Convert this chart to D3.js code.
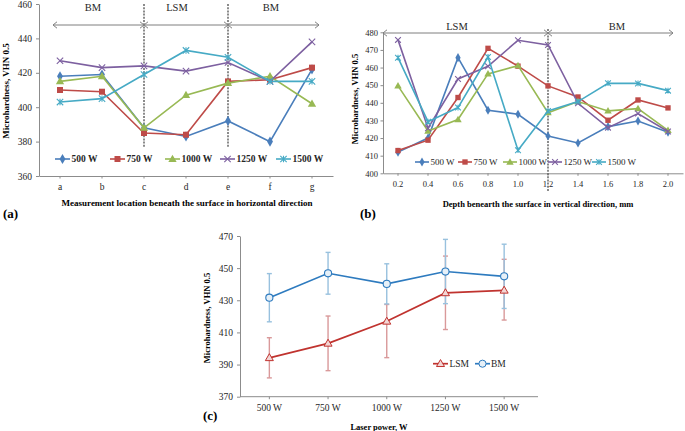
<!DOCTYPE html>
<html><head><meta charset="utf-8">
<script src="https://cdn.jsdelivr.net/npm/d3@7"></script>
<style>body{margin:0;background:#fff}svg{display:block}svg text{font-family:'Liberation Serif','Times New Roman',serif}</style>
</head><body>
<svg id="chart" width="685" height="431"></svg>
<script>
// ---------- data ----------
const seriesNames = ["500 W", "750 W", "1000 W", "1250 W", "1500 W"];
// panel (a)
const catsA = ["a", "b", "c", "d", "e", "f", "g"];
const a500  = [418, 419, 388, 383, 392, 380, 422];
const a750  = [410, 409, 385, 384, 415, 416, 423];
const a1000 = [415, 418, 388, 407, 414, 418, 402];
const a1250 = [427, 423, 424, 421, 426, 415, 438];
const a1500 = [403, 405, 419, 433, 429, 415, 415];
const ticksA = [360, 380, 400, 420, 440, 460];
// panel (b)
const catsB = ["0.2", "0.4", "0.6", "0.8", "1.0", "1.2", "1.4", "1.6", "1.8", "2.0"];
const b500  = [412, 420, 465.6, 435.8, 433.5, 421.2, 417.2, 426.5, 429.7, 423.3];
const b750  = [412.9, 418.8, 443, 470.9, 460.8, 449.6, 443.3, 430.1, 441.6, 437.1];
const b1000 = [449.6, 424, 430.5, 456.4, 461.1, 434.4, 440.7, 435.4, 436.7, 424.4];
const b1250 = [475.7, 425.6, 453.5, 460.7, 475.5, 472.8, 439.7, 425.9, 433.9, 423.7];
const b1500 = [465.6, 429.3, 437.3, 466, 413.1, 435.4, 440.7, 451.1, 451, 446.9];
const ticksB = [400, 410, 420, 430, 440, 450, 460, 470, 480];
// panel (c)
const catsC = ["500 W", "750 W", "1000 W", "1250 W", "1500 W"];
const lsmMean = [394.2, 403.2, 416.9, 434.6, 436.2];
const lsmErrPlus  = [12.5, 17, 10.5, 22.9, 19.3];
const lsmErrMinus = [12.5, 17, 22.6, 22.8, 18.5];
const bmMean = [431.6, 446.8, 440.2, 447.9, 444.9];
const bmErr  = [15, 13, 12.5, 20, 20];
const ticksC = [370, 390, 410, 430, 450, 470];

// ---------- style ----------
const colors = ["#4a7ebb", "#be4b48", "#98b954", "#7d60a0", "#46aac5"];
const markers = ["diamond", "square", "triangle", "cross", "star"];
const FONT = "'Liberation Serif','Times New Roman',serif";
const AXIS = "#8c8c8c";
const svg = d3.select("#chart").style("font-family", FONT);

function marker(g, type, x, y, color, s) {
  s = s || 1;
  if (type === "diamond") {
    g.append("path").attr("d", d3.symbol(d3.symbolDiamond, 30 * s)()).attr("transform", `translate(${x},${y})`).attr("fill", color);
  } else if (type === "square") {
    g.append("path").attr("d", d3.symbol(d3.symbolSquare, 36 * s)()).attr("transform", `translate(${x},${y})`).attr("fill", color);
  } else if (type === "triangle") {
    g.append("path").attr("d", d3.symbol(d3.symbolTriangle, 30 * s)()).attr("transform", `translate(${x},${y + 0.5})`).attr("fill", color);
  } else if (type === "cross" || type === "star") {
    const r = 3.2 * Math.sqrt(s);
    let d = `M${x - r},${y - r}L${x + r},${y + r}M${x - r},${y + r}L${x + r},${y - r}`;
    if (type === "star") d += `M${x},${y - r}L${x},${y + r}`;
    g.append("path").attr("d", d).attr("stroke", color).attr("stroke-width", 1.1).attr("fill", "none");
  }
}

function arrowSeg(g, x1, x2, y) {
  const h = 3.2, w = 4;
  g.append("line").attr("x1", x1).attr("x2", x2).attr("y1", y).attr("y2", y).attr("stroke", "#7f7f7f").attr("stroke-width", 1);
  g.append("path").attr("d", `M${x1 + w},${y - h}L${x1},${y}L${x1 + w},${y + h}M${x2 - w},${y - h}L${x2},${y}L${x2 - w},${y + h}`)
    .attr("stroke", "#7f7f7f").attr("fill", "none").attr("stroke-width", 1);
}

function styleAxis(ax, fs) {
  ax.selectAll("path.domain").attr("stroke", AXIS);
  ax.selectAll("line").attr("stroke", AXIS);
  ax.selectAll("text").attr("fill", "#262626").style("font-size", fs + "px");
}

function linePanel(cfg) {
  const g = svg.append("g");
  const x = d3.scaleBand().domain(cfg.cats).range(cfg.xr).padding(0);
  const y = d3.scaleLinear().domain(cfg.yd).range(cfg.yr);
  const cx = c => x(c) + x.bandwidth() / 2;
  // axes
  const ya = g.append("g").attr("transform", `translate(${cfg.xr[0]},0)`)
    .call(d3.axisLeft(y).tickValues(cfg.ticks).tickSize(cfg.tickY).tickSizeOuter(0).tickPadding(cfg.padY).tickFormat(d3.format("d")));
  styleAxis(ya, cfg.fs);
  const xa = g.append("g").attr("transform", `translate(0,${cfg.yr[0]})`)
    .call(d3.axisBottom(x).tickSize(2.5).tickSizeOuter(0).tickPadding(cfg.padX));
  styleAxis(xa, cfg.fs);
  // dividers
  cfg.dividers.forEach(c => {
    g.append("line").attr("x1", cx(c)).attr("x2", cx(c)).attr("y1", cfg.divY[0]).attr("y2", cfg.divY[1])
      .attr("stroke", "#6f6f6f").attr("stroke-width", 1.6).attr("stroke-dasharray", "2,1.2");
  });
  // arrows & region labels
  cfg.arrows.forEach(a => arrowSeg(g, a[0], a[1], cfg.arrowY));
  cfg.regions.forEach(r => g.append("text").attr("x", r[1]).attr("y", cfg.regionY).attr("text-anchor", "middle")
    .style("font-size", cfg.fsRegion + "px").attr("fill", "#262626").text(r[0]));
  // series
  cfg.series.forEach((vals, i) => {
    const line = d3.line().x((d, j) => cx(cfg.cats[j])).y(d => y(d));
    g.append("path").datum(vals).attr("d", line).attr("fill", "none").attr("stroke", colors[i]).attr("stroke-width", 1.6);
    vals.forEach((v, j) => marker(g, markers[i], cx(cfg.cats[j]), y(v), colors[i], cfg.mk));
  });
  // legend
  cfg.legendX.forEach((lx, i) => {
    const ly = cfg.legendY;
    g.append("line").attr("x1", lx).attr("x2", lx + cfg.legLen).attr("y1", ly).attr("y2", ly).attr("stroke", colors[i]).attr("stroke-width", 1.6);
    marker(g, markers[i], lx + cfg.legLen / 2, ly, colors[i], cfg.mk);
    g.append("text").attr("x", lx + cfg.legLen + 1.5).attr("y", ly).attr("dy", "0.35em")
      .style("font-size", cfg.fsLeg + "px").style("font-weight", cfg.legBold ? "bold" : "normal").attr("fill", "#262626").text(seriesNames[i]);
  });
  // titles
  g.append("text").attr("transform", `translate(${cfg.yLab[0]},${cfg.yLab[1]}) rotate(-90)`).attr("text-anchor", "middle")
    .attr("dy", "0.35em").style("font-size", cfg.fsTitle + "px").style("font-weight", "bold").text("Microhardness, VHN 0.5");
  g.append("text").attr("x", cfg.xLab[0]).attr("y", cfg.xLab[1]).attr("text-anchor", "middle")
    .style("font-size", cfg.fsTitle + "px").style("font-weight", "bold").text(cfg.xTitle);
  g.append("text").attr("x", cfg.tag[0]).attr("y", cfg.tag[1]).style("font-size", "13px").style("font-weight", "bold").text(cfg.tagText);
}

linePanel({
  cats: catsA, xr: [39, 333], yd: [360, 460], yr: [176, 4], ticks: ticksA, tickY: 3, padY: 4, padX: 5, fs: 9.5, mk: 1,
  dividers: ["c", "e"], divY: [4, 147],
  arrowY: 25, arrows: [[53, 144], [144, 228], [228, 319]],
  regionY: 10.5, regions: [["BM", 93], ["LSM", 177], ["BM", 271]], fsRegion: 10.5,
  series: [a500, a750, a1000, a1250, a1500],
  legendX: [55, 110, 165, 220, 276], legendY: 159, legLen: 15, fsLeg: 9.5, legBold: true,
  yLab: [6, 91], xLab: [187, 206], fsTitle: 9,
  xTitle: "Measurement location beneath the surface in horizontal direction",
  tag: [3, 218], tagText: "(a)"
});

linePanel({
  cats: catsB, xr: [383, 683], yd: [400, 480], yr: [173.3, 32.3], ticks: ticksB, tickY: 2.5, padY: 2.5, padX: 5, fs: 8.5, mk: 0.8,
  dividers: ["1.2"], divY: [29, 192],
  arrowY: 33, arrows: [[383, 548], [548, 673]],
  regionY: 30, regions: [["LSM", 457], ["BM", 617]], fsRegion: 10.5,
  series: [b500, b750, b1000, b1250, b1500],
  legendX: [415, 458, 503, 548, 592], legendY: 162, legLen: 14, fsLeg: 9, legBold: false,
  yLab: [355, 99], xLab: [538, 206.5], fsTitle: 8.5,
  xTitle: "Depth benearth the surface in vertical direction, mm",
  tag: [360, 218], tagText: "(b)"
});

// ---------- panel (c) ----------
(function () {
  const g = svg.append("g");
  const xr = [240, 533.5];
  const x = d3.scaleBand().domain(catsC).range(xr).padding(0);
  const y = d3.scaleLinear().domain([370, 470]).range([396.7, 236]);
  const cx = c => x(c) + x.bandwidth() / 2;
  const ya = g.append("g").attr("transform", `translate(${xr[0]},0)`)
    .call(d3.axisLeft(y).tickValues(ticksC).tickSize(3).tickSizeOuter(0).tickPadding(4));
  styleAxis(ya, 9.5);
  const xa = g.append("g").attr("transform", `translate(0,396.7)`)
    .call(d3.axisBottom(x).tickSize(2.5).tickSizeOuter(0).tickPadding(5));
  styleAxis(xa, 9.5);
  xa.select("path.domain").attr("d", `M${xr[0]},0H538`);

  const lsmC = "#c0332f", bmC = "#2e7bbf";
  const lsmE = "#d9999a", bmE = "#98c1de";
  function errBars(mean, up, dn, col) {
    mean.forEach((m, j) => {
      const xx = cx(catsC[j]);
      const y1 = y(m + up[j]), y2 = y(m - dn[j]);
      g.append("line").attr("x1", xx).attr("x2", xx).attr("y1", y1).attr("y2", y2).attr("stroke", col).attr("stroke-width", 1.4);
      [y1, y2].forEach(yy => g.append("line").attr("x1", xx - 2.5).attr("x2", xx + 2.5).attr("y1", yy).attr("y2", yy).attr("stroke", col).attr("stroke-width", 1.4));
    });
  }
  errBars(lsmMean, lsmErrPlus, lsmErrMinus, lsmE);
  errBars(bmMean, bmErr, bmErr, bmE);
  const line = d3.line().x((d, j) => cx(catsC[j])).y(d => y(d));
  g.append("path").datum(lsmMean).attr("d", line).attr("fill", "none").attr("stroke", lsmC).attr("stroke-width", 1.7);
  g.append("path").datum(bmMean).attr("d", line).attr("fill", "none").attr("stroke", bmC).attr("stroke-width", 1.7);
  const tri = d3.symbol(d3.symbolTriangle, 28)();
  const circ = d3.symbol(d3.symbolCircle, 40)();
  lsmMean.forEach((m, j) => g.append("path").attr("d", tri).attr("transform", `translate(${cx(catsC[j])},${y(m) + 0.5})`)
    .attr("fill", "#f3d6d5").attr("stroke", lsmC).attr("stroke-width", 1));
  bmMean.forEach((m, j) => g.append("path").attr("d", circ).attr("transform", `translate(${cx(catsC[j])},${y(m)})`)
    .attr("fill", "#e6f0f8").attr("stroke", bmC).attr("stroke-width", 1.1));
  // legend
  const ly = 363.7;
  g.append("line").attr("x1", 433).attr("x2", 448).attr("y1", ly).attr("y2", ly).attr("stroke", lsmC).attr("stroke-width", 1.7);
  g.append("path").attr("d", tri).attr("transform", `translate(440.5,${ly + 0.5})`).attr("fill", "#f3d6d5").attr("stroke", lsmC);
  g.append("text").attr("x", 449.5).attr("y", ly).attr("dy", "0.35em").style("font-size", "9.5px").attr("fill", "#262626").text("LSM");
  g.append("line").attr("x1", 475).attr("x2", 490).attr("y1", ly).attr("y2", ly).attr("stroke", bmC).attr("stroke-width", 1.7);
  g.append("path").attr("d", circ).attr("transform", `translate(482.5,${ly})`).attr("fill", "#e6f0f8").attr("stroke", bmC);
  g.append("text").attr("x", 491).attr("y", ly).attr("dy", "0.35em").style("font-size", "9.5px").attr("fill", "#262626").text("BM");
  // titles
  g.append("text").attr("transform", `translate(207,318) rotate(-90)`).attr("text-anchor", "middle").attr("dy", "0.35em")
    .style("font-size", "8.5px").style("font-weight", "bold").text("Microhardness, VHN 0.5");
  g.append("text").attr("x", 379).attr("y", 429.5).attr("text-anchor", "middle").style("font-size", "8.5px").style("font-weight", "bold").text("Laser power, W");
  g.append("text").attr("x", 203).attr("y", 419.5).style("font-size", "13px").style("font-weight", "bold").text("(c)");
})();
</script>
</body></html>
